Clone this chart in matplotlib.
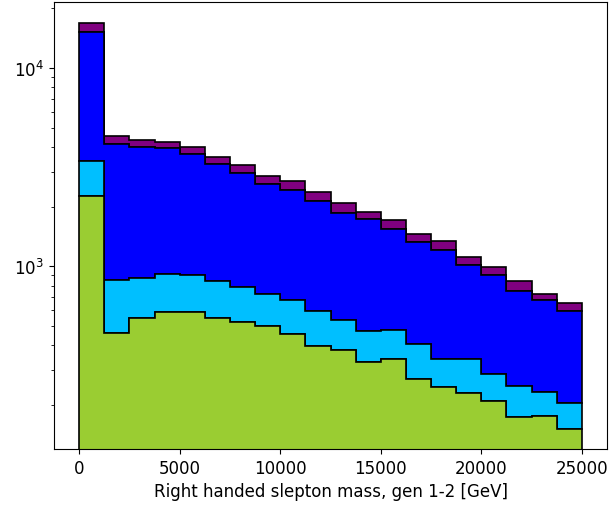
import numpy as np
import matplotlib
matplotlib.use("Agg")
import matplotlib.pyplot as plt

# bin layout: 20 bins of 1250 GeV between 0 and 25000
bin_edges = np.linspace(0, 25000, 21)
bin_centers = 0.5 * (bin_edges[:-1] + bin_edges[1:])

# counts per bin for each stacked component
green = [2266, 461, 550, 588, 588, 550, 523, 499, 457, 396,
         380, 331, 342, 271, 246, 230, 210, 173, 175, 151]
cyan = [1138, 395, 323, 323, 313, 290, 263, 229, 217, 201,
        158, 139, 133, 133, 96, 112, 77, 75, 58, 53]
blue = [11856, 3292, 3133, 3018, 2778, 2422, 2152, 1887, 1765, 1549,
        1328, 1257, 1074, 923, 872, 670, 614, 500, 440, 389]
purple = [1680, 403, 323, 300, 311, 304, 299, 233, 248, 210,
          223, 154, 171, 129, 124, 98, 95, 96, 54, 60]

colors = ['yellowgreen', 'deepskyblue', 'blue', 'purple']

plt.rcParams['font.size'] = 12

fig = plt.figure(figsize=(6.09, 5.10), dpi=100)
ax = fig.add_axes([54 / 609, 60 / 510, 553 / 609, 447 / 510])

ax.hist([bin_centers] * 4, bins=bin_edges,
        weights=[green, cyan, blue, purple],
        stacked=True, histtype='stepfilled', log=True,
        color=colors, edgecolor='black', linewidth=1.2)

ax.set_xlim(-1250, 26250)
ax.set_ylim(120, 21500)
ax.set_xticks([0, 5000, 10000, 15000, 20000, 25000])
ax.set_xlabel('Right handed slepton mass, gen 1-2 [GeV]')

fig.savefig('out.png', dpi=100)
